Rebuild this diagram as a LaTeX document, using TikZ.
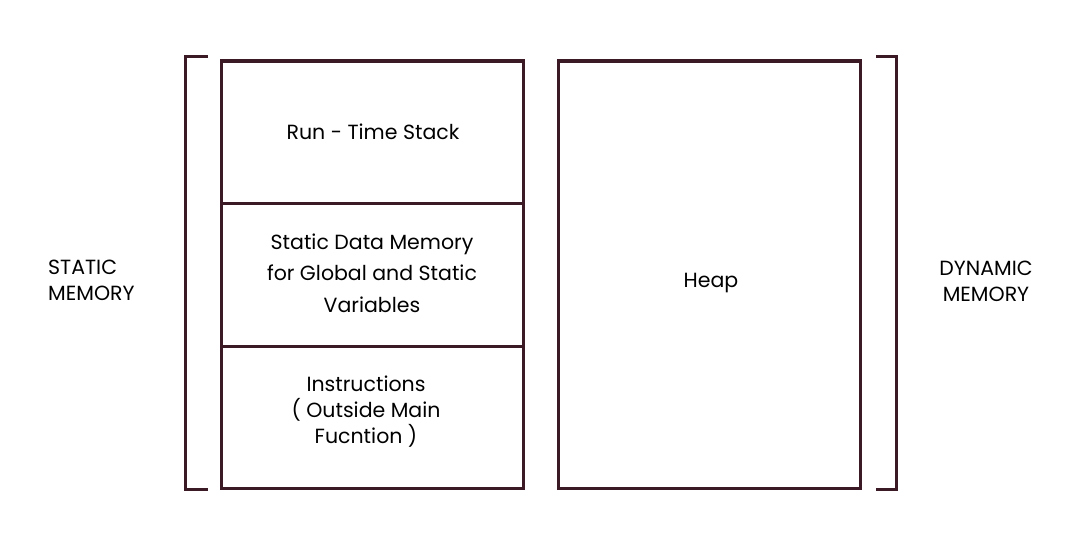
\documentclass[tikz,border=0pt]{standalone}
\usepackage{fontspec}
\setmainfont{Poppins}
\definecolor{maroon}{HTML}{3B1A26}
\begin{document}
\begin{tikzpicture}[x=1pt,y=-1pt,
  boxline/.style={draw=maroon,line width=3pt},
  lbl/.style={font=\fontsize{20.5}{26}\selectfont,text=black,align=center,inner sep=0pt}]
\useasboundingbox (0,0) rectangle (1091,551);
% left column
\coordinate (ltl) at (221,61);
\coordinate (lbr) at (523,488);
\draw[boxline] (ltl) rectangle (lbr);
\coordinate (d1l) at (221,203); \coordinate (d1r) at (523,203);
\coordinate (d2l) at (221,346); \coordinate (d2r) at (523,346);
\draw[boxline] (d1l) -- (d1r);
\draw[boxline] (d2l) -- (d2r);
% heap
\coordinate (htl) at (558,61);
\coordinate (hbr) at (860,488);
\draw[boxline] (htl) rectangle (hbr);
% brackets
\coordinate (lb1) at (208,57); \coordinate (lb2) at (185,57);
\coordinate (lb3) at (185,489); \coordinate (lb4) at (208,489);
\draw[boxline] (lb1) -- (lb2) -- (lb3) -- (lb4);
\coordinate (rb1) at (876,57); \coordinate (rb2) at (896,57);
\coordinate (rb3) at (896,489); \coordinate (rb4) at (876,489);
\draw[boxline] (rb1) -- (rb2) -- (rb3) -- (rb4);
% texts
\node[lbl] (rts) at (373,132) {Run - Time Stack};
\node[lbl,font=\fontsize{20.5}{31.5}\selectfont] (sdm) at (372,273) {Static Data Memory\\for Global and Static\\Variables};
\node[lbl] (ins) at (366,412) {Instructions\\( Outside Main\\Fucntion )};
\node[lbl] (heap) at (711,283) {Heap};
\node[lbl,align=left,anchor=west] (sm) at (48,280) {STATIC\\MEMORY};
\node[lbl] (dm) at (986,281) {DYNAMIC\\MEMORY};
\end{tikzpicture}
\end{document}
